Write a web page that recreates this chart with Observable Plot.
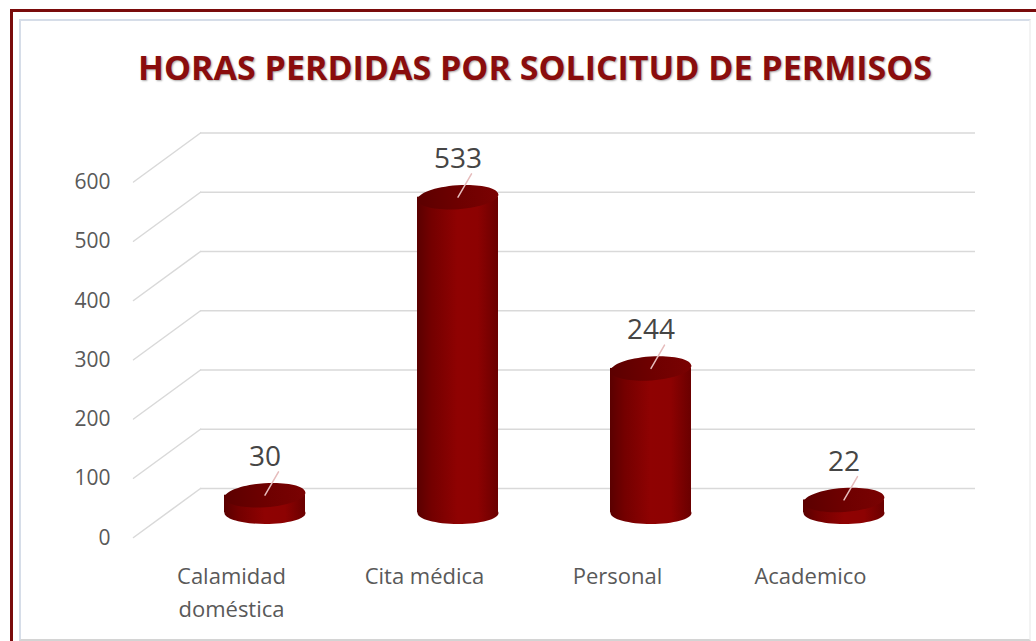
<!DOCTYPE html>
<html>
<head>
<meta charset="utf-8">
<script src="https://cdn.jsdelivr.net/npm/d3@7"></script>
<script src="https://cdn.jsdelivr.net/npm/@observablehq/plot@0.6"></script>
<style>
  body { margin: 0; background: #fff; }
  #wrap { position: relative; width: 1036px; height: 641px; overflow: hidden; background: #fff; }
  #outer { position: absolute; left: 10px; top: 9px; width: 1100px; height: 700px;
           border-left: 3px solid #7a0b0b; border-top: 3px solid #7a0b0b; }
  #inner { position: absolute; left: 19px; top: 19px; width: 1008px; height: 618px;
           border: 2px solid #d6dde8; border-right-color: #f3f3f3; border-bottom-color: #d4d4d4; }
  #title { position: absolute; left: 0; width: 1070px; top: 44px; text-align: center;
           font: 700 34px "Open Sans"; color: #8a0d0d; white-space: nowrap;
           text-shadow: 1px 1px 2px rgba(0,0,0,0.35); }
  #chart { position: absolute; left: 0; top: 0; }
</style>
</head>
<body>
<div id="wrap">
  <div id="outer"></div>
  <div id="inner"></div>
  <div id="title">HORAS PERDIDAS POR SOLICITUD DE PERMISOS</div>
  <div id="chart"></div>
</div>
<script>
const categories = ["Calamidad doméstica", "Cita médica", "Personal", "Academico"];
const tickLabels = ["Calamidad\ndoméstica", "Cita médica", "Personal", "Academico"];
const hours = [30, 533, 244, 22];
const yTicks = [0, 100, 200, 300, 400, 500, 600];

const data = categories.map((c, i) => ({category: c, hours: hours[i]}));

function ellipse(rx, ry) {
  const k = 0.5523;
  return {
    draw(ctx) {
      ctx.moveTo(rx, 0);
      ctx.bezierCurveTo(rx, k * ry, k * rx, ry, 0, ry);
      ctx.bezierCurveTo(-k * rx, ry, -rx, k * ry, -rx, 0);
      ctx.bezierCurveTo(-rx, -k * ry, -k * rx, -ry, 0, -ry);
      ctx.bezierCurveTo(k * rx, -ry, rx, -k * ry, rx, 0);
      ctx.closePath();
    }
  };
}

const gridColor = "#d9d9d9";

const chart = Plot.plot({
  width: 1036,
  height: 641,
  marginLeft: 166.5,
  marginRight: 94.5,
  marginTop: 157,
  marginBottom: 128.5,
  style: {background: "transparent", fontFamily: "Open Sans", overflow: "visible"},
  x: {domain: categories, paddingInner: 0.582, paddingOuter: 0.291, label: null},
  y: {domain: [0, 600], label: null},
  marks: [
    Plot.ruleY(yTicks, {stroke: gridColor, strokeWidth: 1.5, dx: 33.5, dy: -24.5}),
    Plot.vector(yTicks, {y: d => d, frameAnchor: "left", anchor: "middle", length: 83, rotate: 53.8, r: 0,
                         stroke: gridColor, strokeWidth: 1.5}),
    Plot.axisY(yTicks, {tickSize: 0, tickPadding: 56.5, dy: 25, fontSize: 21, color: "#595959", label: null,
                        tickFormat: d => String(d)}),
    Plot.axisX({tickSize: 0, tickPadding: 48, dx: -33.5, fontSize: 22, color: "#595959", lineHeight: 1.5, label: null,
                tickFormat: d => tickLabels[categories.indexOf(d)]}),
    Plot.dot(data, {x: "category", y: () => 0, symbol: ellipse(40.5, 11), fill: "url(#cylBody)", stroke: "none"}),
    Plot.barY(data, {x: "category", y: "hours", fill: "url(#cylBody)"}),
    Plot.dot(data, {x: "category", y: "hours", symbol: ellipse(40.5, 12), rotate: -4, fill: "url(#cylTop)", stroke: "none"}),
    Plot.vector(data, {x: "category", y: "hours", anchor: "start", length: 27, rotate: 30, r: 0,
                       stroke: "#e6bcbc", strokeWidth: 1.5}),
    Plot.text(data, {x: "category", y: "hours", text: d => String(d.hours), dy: -38, fontSize: 28, fill: "#454545"})
  ]
});

d3.select(chart).insert("defs", ":first-child").html(`
  <linearGradient id="cylBody" x1="0" x2="1" y1="0" y2="0">
    <stop offset="0%" stop-color="#5a0000"/>
    <stop offset="18%" stop-color="#740000"/>
    <stop offset="50%" stop-color="#8f0202"/>
    <stop offset="75%" stop-color="#8d0202"/>
    <stop offset="100%" stop-color="#6a0000"/>
  </linearGradient>
  <linearGradient id="cylTop" x1="0" x2="1" y1="0" y2="0">
    <stop offset="0%" stop-color="#5c0000"/>
    <stop offset="50%" stop-color="#6e0000"/>
    <stop offset="100%" stop-color="#7a0202"/>
  </linearGradient>
`);

document.getElementById("chart").appendChild(chart);
</script>
</body>
</html>
